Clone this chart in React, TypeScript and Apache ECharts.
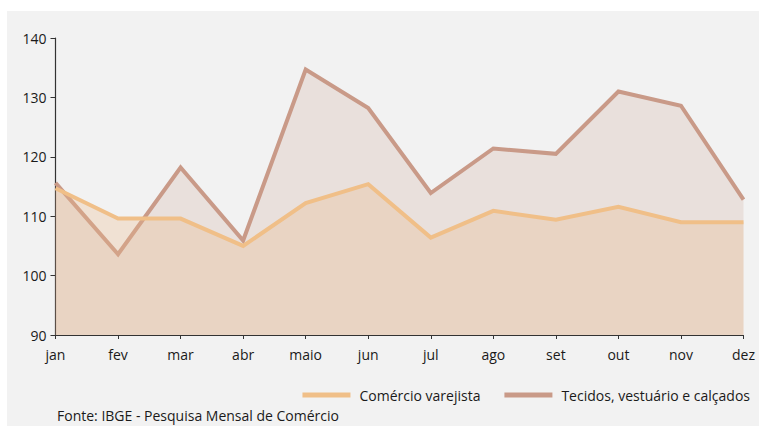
import React, { useEffect, useRef } from "react";
import * as echarts from "echarts";

const months = ["jan", "fev", "mar", "abr", "maio", "jun", "jul", "ago", "set", "out", "nov", "dez"];
const comercio = [114.7, 109.6, 109.6, 105.0, 112.2, 115.4, 106.4, 110.9, 109.4, 111.6, 109.0, 109.0];
const tecidos = [115.6, 103.6, 118.2, 105.9, 134.7, 128.2, 113.9, 121.4, 120.5, 131.0, 128.6, 112.8];
const seriesNames = ["Comércio varejista", "Tecidos, vestuário e calçados"];
const sourceText = "Fonte: IBGE - Pesquisa Mensal de Comércio";

const FONT = "Open Sans";

export default function App() {
  const ref = useRef<HTMLDivElement>(null);
  useEffect(() => {
    document.body.style.margin = "0";
    const chart = echarts.init(ref.current!, null, { renderer: "svg" });
    chart.setOption({
      animation: false,
      backgroundColor: "#ffffff",
      textStyle: { fontFamily: FONT },
      graphic: [
        {
          type: "rect",
          z: -10,
          silent: true,
          shape: { x: 7, y: 11, width: 752, height: 415 },
          style: { fill: "#f2f2f2" },
        },
      ],
      title: {
        text: sourceText,
        left: 57,
        top: 407,
        padding: 0,
        textStyle: { fontFamily: FONT, fontSize: 14, fontWeight: "normal", color: "#1a1a1a", lineHeight: 17 },
      },
      legend: {
        right: 4,
        top: 383,
        itemWidth: 48,
        itemHeight: 5,
        itemGap: 24,
        icon: "rect",
        data: seriesNames,
        textStyle: { fontFamily: FONT, fontSize: 14, color: "#1a1a1a", padding: [0, 0, 0, 4] },
      },
      grid: { left: 55.5, right: 15.5, top: 38, bottom: 91 },
      xAxis: {
        type: "category",
        data: months,
        boundaryGap: false,
        axisLine: { lineStyle: { color: "#333", width: 1.2 } },
        axisTick: { show: true, length: 4, lineStyle: { color: "#333" } },
        axisLabel: { color: "#1a1a1a", fontSize: 14, fontFamily: FONT, margin: 12 },
        splitLine: { show: false },
      },
      yAxis: {
        type: "value",
        min: 90,
        max: 140,
        interval: 10,
        axisLine: { show: true, lineStyle: { color: "#333", width: 1.2 } },
        axisTick: { show: true, length: 5, lineStyle: { color: "#333" } },
        axisLabel: { color: "#1a1a1a", fontSize: 14, fontFamily: FONT, margin: 9 },
        splitLine: { show: false },
      },
      series: [
        {
          name: seriesNames[1],
          type: "line",
          data: tecidos,
          symbol: "none",
          z: 2,
          itemStyle: { color: "#c99a88" },
          lineStyle: { color: "#c99a88", width: 4, join: "miter" },
          areaStyle: { color: "#c99a88", opacity: 0.2 },
        },
        {
          name: seriesNames[0],
          type: "line",
          data: comercio,
          symbol: "none",
          z: 3,
          itemStyle: { color: "#f0bf88" },
          lineStyle: { color: "#f0bf88", width: 4, join: "miter" },
          areaStyle: { color: "#eab98a", opacity: 0.3 },
        },
      ],
    });
    return () => chart.dispose();
  }, []);
  return <div ref={ref} style={{ width: 759, height: 426 }} />;
}
